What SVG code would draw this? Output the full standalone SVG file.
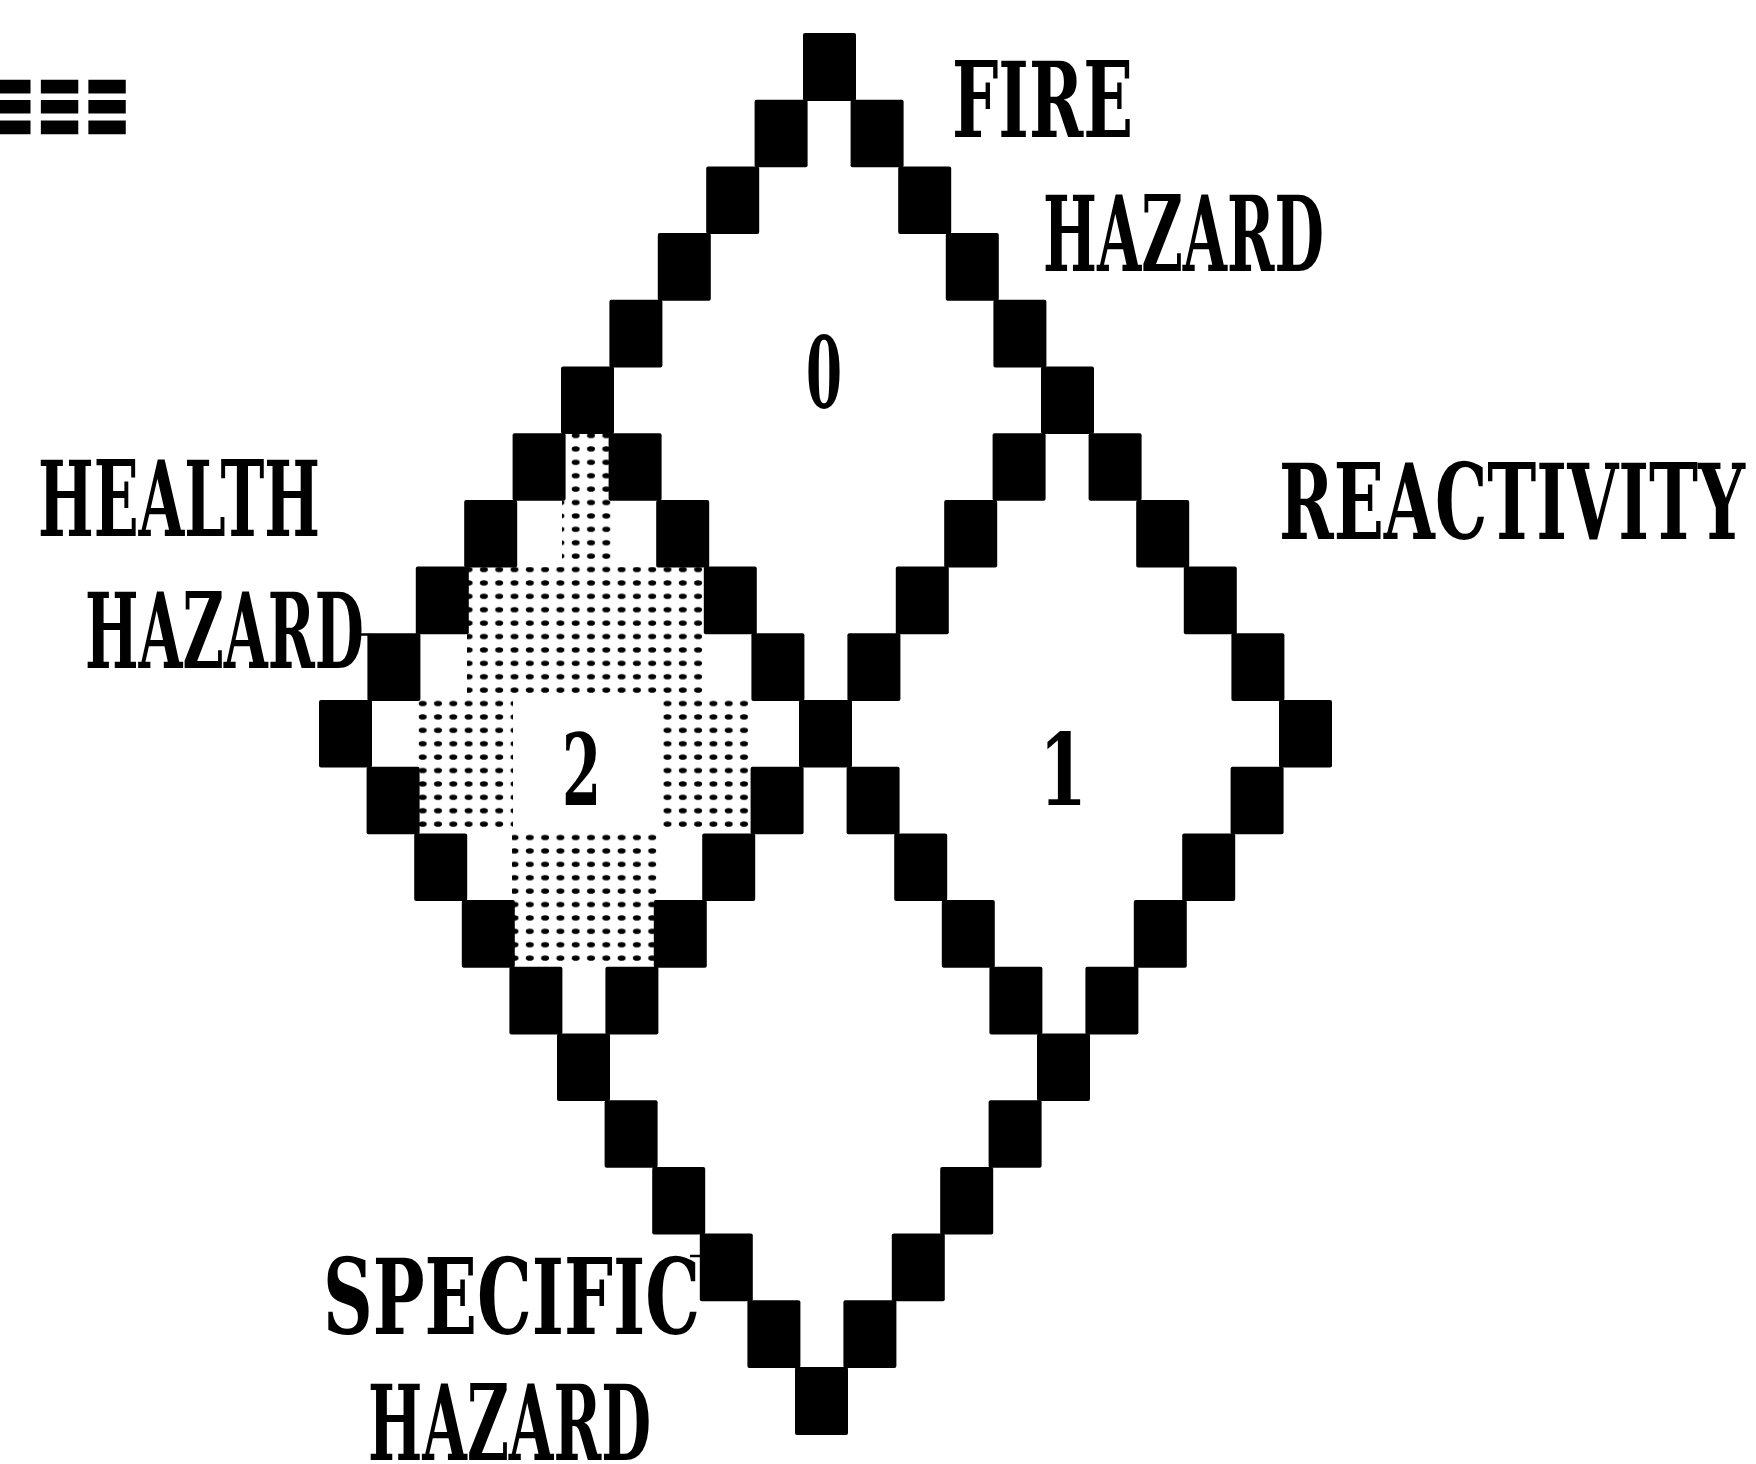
<svg xmlns="http://www.w3.org/2000/svg" width="1756" height="1464" viewBox="0 0 1756 1464">
<defs>
<style>
.b{fill:#000}
.lbl{font-family:"DejaVu Serif Condensed","DejaVu Serif","Liberation Serif",serif;font-weight:bold;font-size:104px;fill:#000}
.num{font-family:"DejaVu Serif Condensed","DejaVu Serif","Liberation Serif",serif;font-weight:bold;font-size:100px;fill:#000}
.sym{font-family:"DejaVu Sans",sans-serif;font-weight:bold;font-size:93px;fill:#000;stroke:#000;stroke-width:3}
.lead{stroke:#000;stroke-width:2.5;fill:none}
</style>
<pattern id="dots" patternUnits="userSpaceOnUse" x="2" y="0" width="15.3" height="13.4">
<ellipse cx="7.6" cy="6.7" rx="4" ry="2.7" fill="#000"/>
</pattern>
</defs>
<rect width="1756" height="1464" fill="#fff"/>

<g id="header">
<text class="sym" x="-12" y="136" textLength="143" lengthAdjust="spacingAndGlyphs">≡≡≡</text>
</g>

<g id="health-shading" fill="url(#dots)">
<rect x="562" y="433" width="49" height="134"/>
<rect x="467" y="567" width="240" height="133"/>
<rect x="417" y="700" width="96" height="134"/>
<rect x="657" y="700" width="96" height="134"/>
<rect x="512" y="834" width="145" height="133"/>
</g>

<g id="fire-diamond">
<g class="b">
<rect x="803.0" y="33.0" width="53" height="68" rx="2"/>
<rect x="754.6" y="99.7" width="53" height="67.6" rx="2"/>
<rect x="850.6" y="99.7" width="53" height="67.6" rx="2"/>
<rect x="706.2" y="166.4" width="53" height="67.6" rx="2"/>
<rect x="898.2" y="166.4" width="53" height="67.6" rx="2"/>
<rect x="657.8" y="233.1" width="53" height="67.6" rx="2"/>
<rect x="945.8" y="233.1" width="53" height="67.6" rx="2"/>
<rect x="609.4" y="299.8" width="53" height="67.6" rx="2"/>
<rect x="993.4" y="299.8" width="53" height="67.6" rx="2"/>
<rect x="561.0" y="366.5" width="53" height="67.6" rx="2"/>
<rect x="1041.0" y="366.5" width="53" height="67.6" rx="2"/>
<rect x="608.6" y="433.2" width="53" height="67.6" rx="2"/>
<rect x="992.6" y="433.2" width="53" height="67.6" rx="2"/>
<rect x="656.2" y="499.9" width="53" height="67.6" rx="2"/>
<rect x="944.2" y="499.9" width="53" height="67.6" rx="2"/>
<rect x="703.8" y="566.6" width="53" height="67.6" rx="2"/>
<rect x="895.8" y="566.6" width="53" height="67.6" rx="2"/>
<rect x="751.4" y="633.3" width="53" height="67.6" rx="2"/>
<rect x="847.4" y="633.3" width="53" height="67.6" rx="2"/>
<rect x="799.0" y="700.0" width="53" height="67.6" rx="2"/>
</g>
<text class="num" x="806" y="408" textLength="36" lengthAdjust="spacingAndGlyphs">0</text>
</g>

<g id="health-diamond">
<g class="b">
<rect x="512.6" y="433.2" width="53" height="67.6" rx="2"/>
<rect x="464.2" y="499.9" width="53" height="67.6" rx="2"/>
<rect x="415.8" y="566.6" width="53" height="67.6" rx="2"/>
<rect x="367.4" y="633.3" width="53" height="67.6" rx="2"/>
<rect x="319.0" y="700.0" width="53" height="67.6" rx="2"/>
<rect x="366.6" y="766.7" width="53" height="67.6" rx="2"/>
<rect x="750.6" y="766.7" width="53" height="67.6" rx="2"/>
<rect x="414.2" y="833.4" width="53" height="67.6" rx="2"/>
<rect x="702.2" y="833.4" width="53" height="67.6" rx="2"/>
<rect x="461.8" y="900.1" width="53" height="67.6" rx="2"/>
<rect x="653.8" y="900.1" width="53" height="67.6" rx="2"/>
<rect x="509.4" y="966.8" width="53" height="67.6" rx="2"/>
<rect x="605.4" y="966.8" width="53" height="67.6" rx="2"/>
<rect x="557.0" y="1033.5" width="53" height="67.6" rx="2"/>
</g>
<text class="num" x="562" y="805" textLength="39" lengthAdjust="spacingAndGlyphs">2</text>
</g>

<g id="reactivity-diamond">
<g class="b">
<rect x="1088.6" y="433.2" width="53" height="67.6" rx="2"/>
<rect x="1136.2" y="499.9" width="53" height="67.6" rx="2"/>
<rect x="1183.8" y="566.6" width="53" height="67.6" rx="2"/>
<rect x="1231.4" y="633.3" width="53" height="67.6" rx="2"/>
<rect x="1279.0" y="700.0" width="53" height="67.6" rx="2"/>
<rect x="846.6" y="766.7" width="53" height="67.6" rx="2"/>
<rect x="1230.6" y="766.7" width="53" height="67.6" rx="2"/>
<rect x="894.2" y="833.4" width="53" height="67.6" rx="2"/>
<rect x="1182.2" y="833.4" width="53" height="67.6" rx="2"/>
<rect x="941.8" y="900.1" width="53" height="67.6" rx="2"/>
<rect x="1133.8" y="900.1" width="53" height="67.6" rx="2"/>
<rect x="989.4" y="966.8" width="53" height="67.6" rx="2"/>
<rect x="1085.4" y="966.8" width="53" height="67.6" rx="2"/>
<rect x="1037.0" y="1033.5" width="53" height="67.6" rx="2"/>
</g>
<text class="num" x="1039" y="805" textLength="48" lengthAdjust="spacingAndGlyphs">1</text>
</g>

<g id="specific-diamond">
<g class="b">
<rect x="604.6" y="1100.2" width="53" height="67.6" rx="2"/>
<rect x="988.6" y="1100.2" width="53" height="67.6" rx="2"/>
<rect x="652.2" y="1166.9" width="53" height="67.6" rx="2"/>
<rect x="940.2" y="1166.9" width="53" height="67.6" rx="2"/>
<rect x="699.8" y="1233.6" width="53" height="67.6" rx="2"/>
<rect x="891.8" y="1233.6" width="53" height="67.6" rx="2"/>
<rect x="747.4" y="1300.3" width="53" height="67.6" rx="2"/>
<rect x="843.4" y="1300.3" width="53" height="67.6" rx="2"/>
<rect x="795.0" y="1367.0" width="53" height="68" rx="2"/>
</g>
</g>

<g id="label-fire">
<text class="lbl" x="952" y="137" textLength="181" lengthAdjust="spacingAndGlyphs">FIRE</text>
<text class="lbl" x="1043" y="271" textLength="281" lengthAdjust="spacingAndGlyphs">HAZARD</text>
</g>
<g id="label-health">
<text class="lbl" x="38" y="536" textLength="282" lengthAdjust="spacingAndGlyphs">HEALTH</text>
<text class="lbl" x="85" y="668" textLength="279" lengthAdjust="spacingAndGlyphs">HAZARD</text>
</g>
<g id="label-reactivity">
<text class="lbl" x="1279" y="539" textLength="466" lengthAdjust="spacingAndGlyphs">REACTIVITY</text>
</g>
<g id="label-specific">
<text class="lbl" x="323" y="1334" textLength="377" lengthAdjust="spacingAndGlyphs">SPECIFIC</text>
<text class="lbl" x="368" y="1460" textLength="283" lengthAdjust="spacingAndGlyphs">HAZARD</text>
</g>

<g id="connectors">
<line class="lead" x1="356" y1="634.5" x2="369" y2="634.5"/>
<line class="lead" x1="690" y1="1256" x2="701" y2="1256"/>
</g>
</svg>
